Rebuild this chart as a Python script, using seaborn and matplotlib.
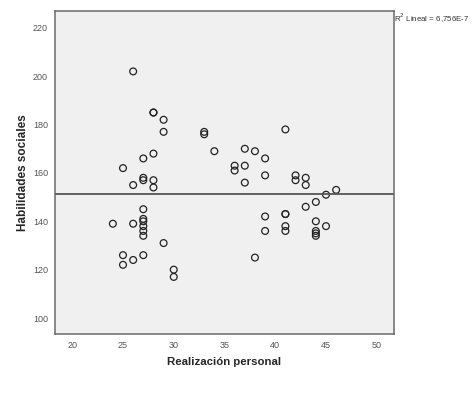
import numpy as np
import pandas as pd
import matplotlib
matplotlib.use("Agg")
import matplotlib.pyplot as plt
import seaborn as sns

# values
realizacion = [26, 28, 28, 29, 29, 33, 33, 34, 28, 27, 25, 27, 27, 28, 26, 28,
               27, 27, 27, 24, 26, 27, 27, 27, 29, 25, 27, 26, 25, 30, 30,
               41, 37, 38, 39, 36, 36, 37, 39, 37, 42, 42, 43, 43, 46, 45, 44, 43,
               39, 41, 41, 39, 41, 41, 44, 45, 44, 44, 44, 38]
habilidades = [202, 185, 185, 182, 177, 177, 176, 169, 168, 166, 162, 158, 157, 157, 155, 154,
               145, 141, 140, 139, 139, 138, 136, 134, 131, 126, 126, 124, 122, 120, 117,
               178, 170, 169, 166, 163, 161, 163, 159, 156, 159, 157, 158, 155, 153, 151, 148, 146,
               142, 143, 143, 136, 138, 136, 140, 138, 136, 135, 134, 125]

x_ticks = [20, 25, 30, 35, 40, 45, 50]
y_ticks = [100, 120, 140, 160, 180, 200, 220]

df = pd.DataFrame({"Realización personal": realizacion,
                   "Habilidades sociales": habilidades})

sns.set_style("white")
plt.rcParams['font.family'] = ['Liberation Sans', 'DejaVu Sans']

fig = plt.figure(figsize=(4.77, 3.99), dpi=100)
ax = fig.add_axes([0.1153, 0.163, 0.7107, 0.8095])
ax.set_facecolor("#f0f0f0")

sns.scatterplot(data=df, x="Realización personal", y="Habilidades sociales", ax=ax,
                s=24, facecolors="none", edgecolor="#222222", linewidth=0.9)

# R2 lineal ~ 0: the linear fit is flat at the mean
ax.axhline(np.mean(habilidades), color="#555555", linewidth=1.3)

ax.set_xlim(18.3, 51.7)
ax.set_ylim(93.4, 227)
ax.set_xticks(x_ticks)
ax.set_yticks(y_ticks)
ax.tick_params(axis="both", direction="out", length=3, width=0.8, color="#666666",
               labelsize=6.5, labelcolor="#555555", pad=2)
for sp in ax.spines.values():
    sp.set_color("#6a6a6a")
    sp.set_linewidth(1.1)

ax.set_xlabel("Realización personal", fontsize=8.2, fontweight="bold", labelpad=5)
ax.set_ylabel("Habilidades sociales", fontsize=8.5, fontweight="bold", labelpad=3)

fig.text(0.826, 0.955, "R$^2$ Lineal = 6,756E-7", fontsize=5.7, color="#333333",
         ha="left", va="center")

fig.savefig("out.png", dpi=100)
